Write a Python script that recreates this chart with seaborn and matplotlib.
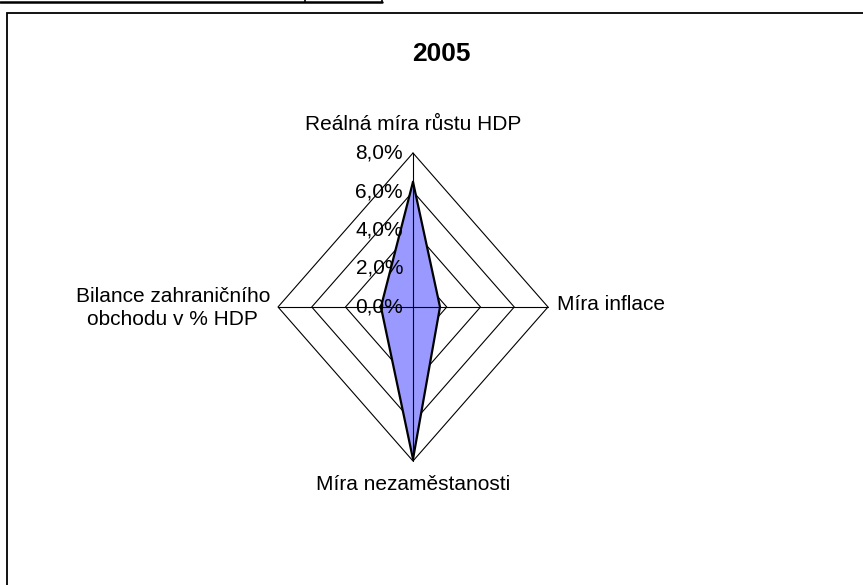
import numpy as np
import matplotlib
matplotlib.use("Agg")
import matplotlib.pyplot as plt
import matplotlib.transforms as mtransforms
from matplotlib.lines import Line2D
from matplotlib.patches import Rectangle
import seaborn as sns

# --- data (values in %) ---
title = "2005"
categories = ["Reálná míra růstu HDP", "Míra inflace", "Míra nezaměstanosti",
              "Bilance zahraničního\nobchodu v % HDP"]
values = [6.5, 1.6, 7.9, 1.9]
levels = [0, 2, 4, 6, 8]
level_labels = ["0,0%", "2,0%", "4,0%", "6,0%", "8,0%"]

sns.set_theme(style="white")
plt.rcParams["font.family"] = ["Liberation Sans", "DejaVu Sans"]
plt.rcParams["text.color"] = "black"

W, H = 863, 585
fig = plt.figure(figsize=(W / 100, H / 100), dpi=100)

# radar sits in a plain cartesian axes, stretched like the Excel original
cx, cy = 413, 307           # centre in pixels
sx, sy = 135 / 8, 154 / 8   # pixels per 1 % (horizontal / vertical)
rmax = 10
ax = fig.add_axes([(cx - rmax * sx) / W, (H - cy - rmax * sy) / H,
                   2 * rmax * sx / W, 2 * rmax * sy / H])
ax.set_xlim(-rmax, rmax)
ax.set_ylim(-rmax, rmax)
ax.axis("off")

n = len(categories)
angles = np.pi / 2 - np.arange(n) * 2 * np.pi / n
ux, uy = np.cos(angles), np.sin(angles)
top = max(levels)

# diamond grid rings
for lvl in levels[1:]:
    rx = np.append(ux * lvl, ux[0] * lvl)
    ry = np.append(uy * lvl, uy[0] * lvl)
    ax.plot(rx, ry, color="black", lw=0.8, zorder=1)

# data polygon
vx = np.append(ux * values, ux[0] * values[0])
vy = np.append(uy * values, uy[0] * values[0])
ax.fill(vx, vy, color="#9999FF", lw=0, zorder=2)

# spokes on top of the fill
for x, y in zip(ux, uy):
    ax.plot([0, x * top], [0, y * top], color="black", lw=0.8, zorder=3)

sns.lineplot(x=vx, y=vy, sort=False, estimator=None, color="black",
             lw=1.6, zorder=4, ax=ax)

# radial tick labels along the top spoke
tick_tr = mtransforms.offset_copy(ax.transData, fig=fig, x=-10, y=0, units="dots")
for lvl, lab in zip(levels, level_labels):
    ax.text(0, lvl, lab, transform=tick_tr, ha="right", va="center",
            fontsize=15, color="black", zorder=5)

# category labels
offsets = [(0, 29, "center", "center"), (9, 3, "left", "center"),
           (0, -24, "center", "center"), (-8, -1, "right", "center")]
for (dx, dy, ha, va), lab, x, y in zip(offsets, categories, ux, uy):
    tr = mtransforms.offset_copy(ax.transData, fig=fig, x=dx, y=dy, units="dots")
    ax.text(x * top, y * top, lab, transform=tr, ha=ha, va=va,
            multialignment="center", linespacing=1.25, fontsize=15, color="black")

fig.text(441 / W, 1 - 54 / H, title, ha="center", va="center",
         fontsize=19, fontweight="bold", color="black")

# chart frame and the table edge above it
fig.add_artist(Rectangle((7 / W, -0.1), 1.2, (H - 13) / H + 0.1,
                         transform=fig.transFigure, fill=False,
                         ec="black", lw=1.3))
fig.add_artist(Line2D([0, 382 / W], [1 - 2 / H] * 2, transform=fig.transFigure,
                      color="black", lw=1.8))
for xv in (305, 382):
    fig.add_artist(Line2D([xv / W] * 2, [1, 1 - 2 / H], transform=fig.transFigure,
                          color="black", lw=1.2))

fig.savefig("out.png", dpi=100)
